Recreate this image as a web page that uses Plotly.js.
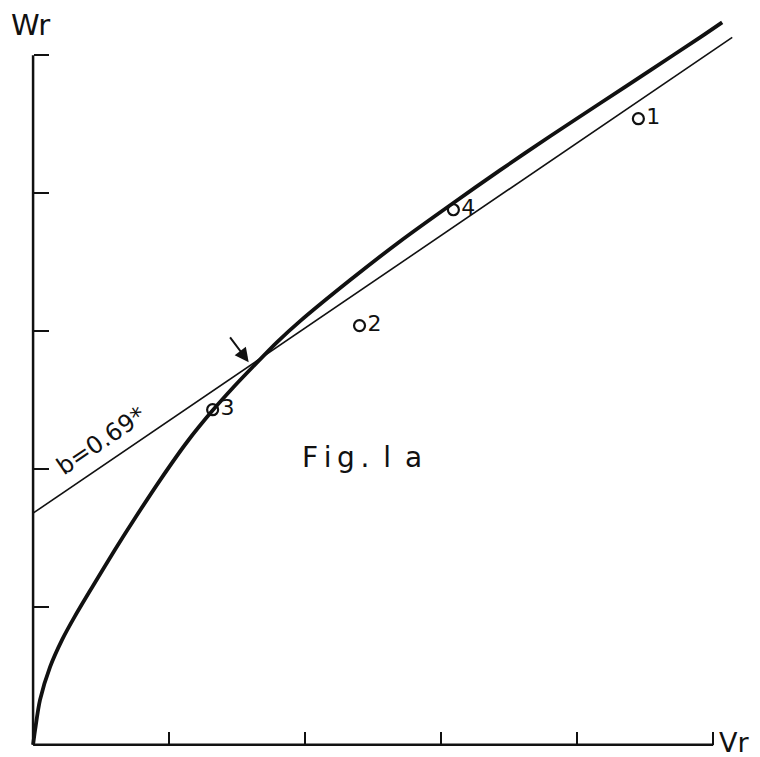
<!DOCTYPE html>
<html>
<head>
<meta charset="utf-8">
<script src="https://cdn.plot.ly/plotly-3.0.1.min.js"></script>
<style>html,body{margin:0;padding:0;background:#fff;}#chart{width:760px;height:757px;}</style>
</head>
<body>
<div id="chart"></div>
<script>
// Thick curve (Wr vs Vr)
const curveVr = [0, 0.015, 0.051, 0.125, 0.213, 0.309, 0.441, 0.603, 0.750, 0.934, 1.132, 1.316, 1.471, 1.618, 1.794, 1.963, 2.331, 2.699, 3.066, 3.434, 3.801, 4.169, 4.537, 4.904, 5.066];
const curveWr = [0, 0.109, 0.326, 0.565, 0.761, 0.935, 1.154, 1.417, 1.645, 1.920, 2.196, 2.420, 2.591, 2.743, 2.920, 3.072, 3.370, 3.652, 3.913, 4.167, 4.413, 4.652, 4.891, 5.130, 5.239];
// Thin straight line (b = 0.69*)
const lineVr = [0, 5.14];
const lineWr = [1.68, 5.13];
// Numbered points
const ptLabels = ["1", "4", "2", "3"];
const ptVr = [4.45, 3.09, 2.40, 1.32];
const ptWr = [4.54, 3.88, 3.04, 2.43];
// Axis ticks
const tickVals = [1, 2, 3, 4, 5];
const axisMax = 5;

const ux = 136, uy = 138, ox = 33, oy = 745, W = 760, H = 757;
const xr = [-0.03, 5.3], yr = [-0.03, 5.35];
const ml = ox + xr[0] * ux;
const pw = (xr[1] - xr[0]) * ux;
const mr = W - ml - pw;
const mb = (H - oy) + yr[0] * uy;
const ph = (yr[1] - yr[0]) * uy;
const mt = H - mb - ph;

const font = "DejaVu Sans, sans-serif";

const traces = [
  {x: lineVr, y: lineWr, mode: "lines", line: {color: "#111", width: 1.6}, hoverinfo: "skip"},
  {x: curveVr, y: curveWr, mode: "lines", line: {color: "#111", width: 3.8, shape: "spline", smoothing: 0.8}, hoverinfo: "skip"},
  {x: ptVr, y: ptWr, mode: "markers+text", text: ptLabels, textposition: "middle right",
   textfont: {family: font, size: 22, color: "#111"},
   marker: {symbol: "circle-open", size: 11, color: "#111", line: {width: 2.2, color: "#111"}},
   cliponaxis: false, hoverinfo: "skip"}
];

const layout = {
  width: W, height: H,
  margin: {l: ml, r: mr, t: mt, b: mb, pad: 0},
  paper_bgcolor: "#fff", plot_bgcolor: "#fff",
  showlegend: false,
  xaxis: {range: xr, anchor: "free", position: (0 - yr[0]) / (yr[1] - yr[0]),
          showgrid: false, zeroline: false, showline: false,
          ticks: "inside", ticklen: 13, tickwidth: 2, tickcolor: "#111",
          tickvals: tickVals, showticklabels: false, fixedrange: true},
  yaxis: {range: yr, anchor: "free", position: (0 - xr[0]) / (xr[1] - xr[0]),
          showgrid: false, zeroline: false, showline: false,
          ticks: "inside", ticklen: 15, tickwidth: 2, tickcolor: "#111",
          tickvals: tickVals, showticklabels: false, fixedrange: true},
  shapes: [
    {type: "line", xref: "x", yref: "y", x0: 0, y0: 0, x1: axisMax, y1: 0, line: {color: "#111", width: 2.5}},
    {type: "line", xref: "x", yref: "y", x0: 0, y0: 0, x1: 0, y1: axisMax, line: {color: "#111", width: 2.5}}
  ],
  annotations: [
    {xref: "x", yref: "y", x: -0.02, y: 5.22, text: "Wr", showarrow: false,
     font: {family: font, size: 29, color: "#111"}},
    {xref: "x", yref: "y", x: 5.03, y: 0.02, xanchor: "left", text: "Vr", showarrow: false,
     font: {family: font, size: 27, color: "#111"}},
    {xref: "x", yref: "y", x: 2.42, y: 2.08, text: "F\u2009i\u2009g\u2009.\u2002l\u2002a", showarrow: false,
     font: {family: font, size: 28, color: "#111"}},
    {xref: "x", yref: "y", x: 0.50, y: 2.2, text: "b=0.69*", showarrow: false, textangle: -34,
     font: {family: font, size: 24, color: "#111"}},
    {xref: "x", yref: "y", axref: "x", ayref: "y", x: 1.585, y: 2.775, ax: 1.44, ay: 2.965,
     text: "", showarrow: true, arrowhead: 2, arrowsize: 1.4, arrowwidth: 2, arrowcolor: "#111", standoff: 0}
  ]
};

Plotly.newPlot("chart", traces, layout, {displayModeBar: false, staticPlot: true});
</script>
</body>
</html>
